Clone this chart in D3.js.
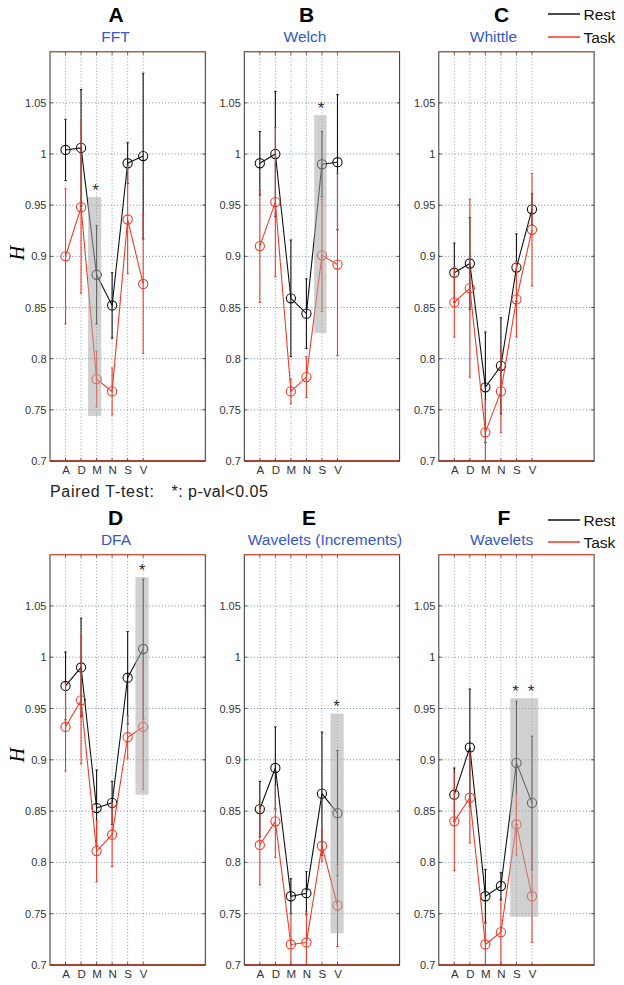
<!DOCTYPE html>
<html>
<head>
<meta charset="utf-8">
<script src="https://cdn.jsdelivr.net/npm/d3@7"></script>
<style>
  html, body { margin: 0; padding: 0; background: #fff; }
  svg { display: block; font-family: "Liberation Sans", Arial, sans-serif; }
</style>
</head>
<body>
<svg id="chart" width="624" height="985"></svg>
<script>
// ---------------- data ----------------
const categories = ["A", "D", "M", "N", "S", "V"];
const panelLetters = ["A", "B", "C", "D", "E", "F"];
const methods = ["FFT", "Welch", "Whittle", "DFA", "Wavelets (Increments)", "Wavelets"];
const yTicks = [0.7, 0.75, 0.8, 0.85, 0.9, 0.95, 1, 1.05];
const seriesNames = ["Rest", "Task"];

const restMean = [
  [1.004, 1.006, 0.882, 0.852, 0.991, 0.998],
  [0.991, 1.000, 0.859, 0.844, 0.990, 0.992],
  [0.884, 0.893, 0.772, 0.793, 0.889, 0.946],
  [0.972, 0.990, 0.853, 0.858, 0.980, 1.008],
  [0.852, 0.892, 0.767, 0.770, 0.867, 0.848],
  [0.866, 0.912, 0.767, 0.777, 0.897, 0.858]
];
const restErr = [
  [0.030, 0.057, 0.048, 0.032, 0.020, 0.081],
  [0.031, 0.061, 0.057, 0.034, 0.032, 0.066],
  [0.029, 0.045, 0.054, 0.047, 0.033, 0.015],
  [0.033, 0.048, 0.037, 0.021, 0.045, 0.068],
  [0.027, 0.040, 0.017, 0.021, 0.060, 0.061],
  [0.026, 0.057, 0.026, 0.013, 0.060, 0.065]
];
const taskMean = [
  [0.900, 0.948, 0.780, 0.768, 0.936, 0.873],
  [0.910, 0.953, 0.768, 0.782, 0.901, 0.892],
  [0.855, 0.869, 0.728, 0.768, 0.858, 0.926],
  [0.932, 0.958, 0.811, 0.827, 0.922, 0.932],
  [0.817, 0.840, 0.720, 0.722, 0.816, 0.758],
  [0.840, 0.863, 0.720, 0.732, 0.837, 0.767]
];
const taskErr = [
  [0.066, 0.084, 0.027, 0.023, 0.053, 0.068],
  [0.055, 0.073, 0.012, 0.020, 0.055, 0.089],
  [0.034, 0.087, 0.032, 0.040, 0.037, 0.055],
  [0.043, 0.062, 0.030, 0.031, 0.021, 0.061],
  [0.039, 0.035, 0.030, 0.030, 0.015, 0.040],
  [0.048, 0.044, 0.021, 0.031, 0.030, 0.045]
];
// significance shading: [xFrom, xTo, yLow, yHigh] in axis units (null = none)
const sigBoxes = [
  [2.45, 3.3, 0.744, 0.958],
  [4.5, 5.3, 0.825, 1.038],
  null,
  [5.5, 6.35, 0.866, 1.078],
  [5.55, 6.4, 0.731, 0.945],
  [4.6, 6.4, 0.747, 0.960]
];
const sigStars = [["M"], ["S"], [], ["V"], ["V"], ["S", "V"]];
const noteLabel = "Paired T-test:";
const noteText = "*: p-val<0.05";

// ---------------- layout ----------------
const colLeft = [50, 244.3, 438.8];
const plotW = 155.3;
const rowTop = [51.7, 554.6];
const rowBottom = [461, 965];
const letterX = [116, 306.5, 501.5, 115.5, 309, 504];
const subX = [115.5, 305, 493.5, 116, 325, 501.7];
const letterY = [21.7, 525];
const subY = [41.7, 545];

const BLACK = "#111";
const RED = "#f03a26";
const BLUE = "#3558c8";

const svg = d3.select("#chart");

methods.forEach((m, p) => {
  const row = Math.floor(p / 3), col = p % 3;
  const left = colLeft[col], right = left + plotW;
  const top = rowTop[row], bottom = rowBottom[row];
  const x = d3.scaleLinear().domain([0, 10]).range([left, right]);
  const y = d3.scaleLinear().domain([0.7, 1.1]).range([bottom, top]);
  const g = svg.append("g");

  const clipId = "clip" + p;
  svg.append("clipPath").attr("id", clipId)
    .append("rect").attr("x", left).attr("y", top).attr("width", plotW).attr("height", bottom - top);

  // grid
  g.append("g").selectAll("line").data(yTicks.filter(v => v > 0.7)).join("line")
    .attr("x1", left).attr("x2", right)
    .attr("y1", d => y(d)).attr("y2", d => y(d))
    .attr("stroke", "#3f5a85").attr("stroke-opacity", 0.8).attr("stroke-width", 0.9).attr("stroke-dasharray", "1,2.2");
  g.append("g").selectAll("line").data(categories).join("line")
    .attr("x1", (d, i) => x(i + 1)).attr("x2", (d, i) => x(i + 1))
    .attr("y1", top).attr("y2", bottom)
    .attr("stroke", "#4a6a9a").attr("stroke-opacity", 0.7).attr("stroke-width", 0.9).attr("stroke-dasharray", "1,2.2");

  // axes
  const yAxis = d3.axisLeft(y).tickValues(yTicks).tickSize(0).tickPadding(3.5)
    .tickFormat(d => String(+d.toFixed(2)));
  const ya = g.append("g").attr("transform", `translate(${left},0)`).call(yAxis);
  ya.select(".domain").remove();
  ya.selectAll("text").attr("font-size", 11).attr("fill", "#333")
    .attr("font-family", "Liberation Sans, Arial, sans-serif");

  const xAxis = d3.axisBottom(x).tickValues(categories.map((c, i) => i + 1)).tickSize(0).tickPadding(5)
    .tickFormat((d, i) => categories[i]);
  const xa = g.append("g").attr("transform", `translate(0,${bottom})`).call(xAxis);
  xa.select(".domain").remove();
  xa.selectAll("text").attr("font-size", 11.5).attr("fill", "#333")
    .attr("font-family", "Liberation Sans, Arial, sans-serif");

  // inner tick marks
  const tk = g.append("g").attr("stroke", "#333").attr("stroke-width", 0.8);
  yTicks.forEach(v => {
    tk.append("line").attr("x1", left).attr("x2", left + 3).attr("y1", y(v)).attr("y2", y(v));
    tk.append("line").attr("x1", right).attr("x2", right - 3).attr("y1", y(v)).attr("y2", y(v));
  });
  categories.forEach((c, i) => {
    tk.append("line").attr("x1", x(i + 1)).attr("x2", x(i + 1)).attr("y1", bottom).attr("y2", bottom - 3);
    tk.append("line").attr("x1", x(i + 1)).attr("x2", x(i + 1)).attr("y1", top).attr("y2", top + 3);
  });

  // series
  const plotG = g.append("g").attr("clip-path", `url(#${clipId})`);
  const series = [
    { mean: restMean[p], err: restErr[p], color: BLACK },
    { mean: taskMean[p], err: taskErr[p], color: RED }
  ];
  series.forEach(s => {
    const pts = s.mean.map((v, i) => ({ xi: i + 1, v, e: s.err[i] }));
    const sg = plotG.append("g");
    sg.selectAll("line.eb").data(pts).join("line").attr("class", "eb")
      .attr("x1", d => x(d.xi)).attr("x2", d => x(d.xi))
      .attr("y1", d => y(d.v - d.e)).attr("y2", d => y(d.v + d.e))
      .attr("stroke", s.color).attr("stroke-width", 1.1);
    sg.selectAll("line.cap").data(pts.flatMap(d => [d.v - d.e, d.v + d.e].map(val => ({ xi: d.xi, val }))))
      .join("line").attr("class", "cap")
      .attr("x1", d => x(d.xi) - 1.2).attr("x2", d => x(d.xi) + 1.2)
      .attr("y1", d => y(d.val)).attr("y2", d => y(d.val))
      .attr("stroke", s.color).attr("stroke-width", 1);
    sg.append("path").datum(pts)
      .attr("d", d3.line().x(d => x(d.xi)).y(d => y(d.v)))
      .attr("fill", "none").attr("stroke", s.color).attr("stroke-width", 1.1);
    sg.selectAll("circle").data(pts).join("circle")
      .attr("cx", d => x(d.xi)).attr("cy", d => y(d.v)).attr("r", 4.6)
      .attr("fill", "none").attr("stroke", s.color).attr("stroke-width", 1.1);
  });

  // significance shading
  const b = sigBoxes[p];
  if (b) {
    plotG.append("rect")
      .attr("x", x(b[0])).attr("width", x(b[1]) - x(b[0]))
      .attr("y", y(b[3])).attr("height", y(b[2]) - y(b[3]))
      .attr("fill", "#aaa").attr("fill-opacity", 0.55);
    sigStars[p].forEach(c => {
      const i = categories.indexOf(c) + 1;
      g.append("text").attr("x", x(i) - 1).attr("y", y(b[3] + 0.01) + 9)
        .attr("text-anchor", "middle").attr("font-size", 17).attr("fill", "#333").text("*");
    });
  }

  // frame
  g.append("rect").attr("x", left).attr("y", top).attr("width", plotW).attr("height", bottom - top)
    .attr("fill", "none").attr("stroke", "#333").attr("stroke-width", 1);
  g.append("line").attr("x1", left).attr("x2", right).attr("y1", top).attr("y2", top)
    .attr("stroke", "#d8503a").attr("stroke-width", 1.1);
  g.append("line").attr("x1", left).attr("x2", right).attr("y1", bottom).attr("y2", bottom)
    .attr("stroke", "#a8281c").attr("stroke-width", 1.3);

  // titles
  svg.append("text").attr("x", letterX[p]).attr("y", letterY[row]).attr("text-anchor", "middle")
    .attr("font-size", 21).attr("font-weight", "bold").attr("fill", "#000").text(panelLetters[p]);
  svg.append("text").attr("x", subX[p]).attr("y", subY[row]).attr("text-anchor", "middle")
    .attr("font-size", 15.5).attr("fill", BLUE).text(m);

  // y label
  if (col === 0) {
    svg.append("text")
      .attr("transform", `translate(24,${row === 0 ? 253 : 755}) rotate(-90)`)
      .attr("text-anchor", "middle")
      .attr("font-family", "Liberation Serif, Times New Roman, serif")
      .attr("font-style", "italic").attr("font-size", 20).attr("fill", "#000").text("H");
  }

  // legend
  if (col === 2) {
    const ly = row === 0 ? [14, 37] : [520, 542];
    seriesNames.forEach((n, k) => {
      svg.append("line").attr("x1", 548).attr("x2", 580).attr("y1", ly[k]).attr("y2", ly[k])
        .attr("stroke", k === 0 ? BLACK : RED).attr("stroke-width", 1.5);
      svg.append("text").attr("x", 583.5).attr("y", ly[k] + 5.5)
        .attr("font-size", 15.5).attr("fill", "#111").text(n);
    });
  }
});

// note between rows
svg.append("text").attr("x", 50).attr("y", 497.3).attr("font-size", 16)
  .attr("letter-spacing", 0.7).attr("fill", "#222").text(noteLabel);
svg.append("text").attr("x", 171.5).attr("y", 497.3).attr("font-size", 16)
  .attr("letter-spacing", 0.5).attr("fill", "#222").text(noteText);
</script>
</body>
</html>
